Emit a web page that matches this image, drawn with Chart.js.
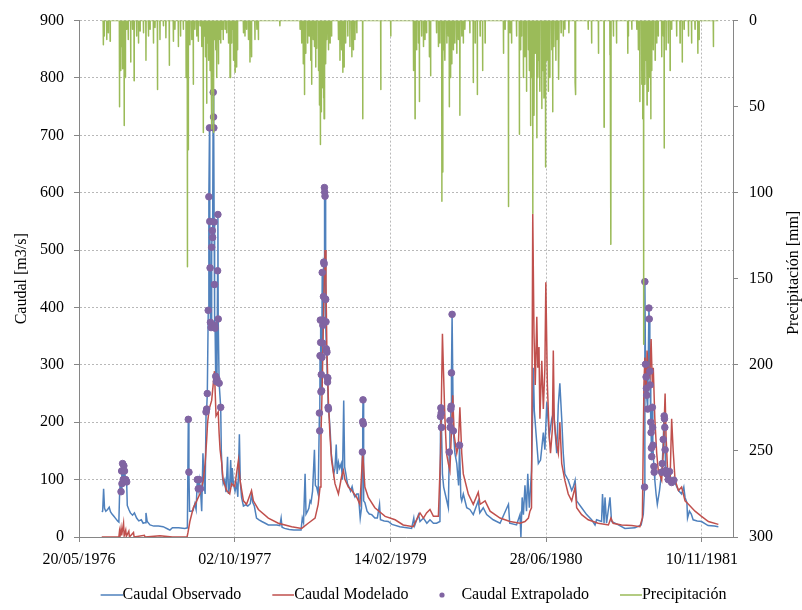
<!DOCTYPE html>
<html>
<head>
<meta charset="utf-8">
<script src="https://cdn.jsdelivr.net/npm/chart.js@4.4.1/dist/chart.umd.min.js"></script>
<style>
  html, body { margin: 0; padding: 0; background: #fff; }
</style>
</head>
<body>
<canvas id="grafico" width="802" height="610"></canvas>
<script>
// Eje X en días contados desde el 20/05/1976
const ticksDia = [0, 500, 1000, 1500, 2000];
const ticksFecha = ['20/05/1976', '02/10/1977', '14/02/1979', '28/06/1980', '10/11/1981'];

// Caudal observado [m3/s]
const obsDia = [73, 76, 79, 82, 86, 92, 97, 101, 106, 112, 118, 124, 128, 130, 132,
  155, 160, 165, 172, 178, 185, 192, 200, 206, 212, 215, 219, 228, 240, 255, 270, 285, 292, 300, 320, 340, 348,
  355, 360, 366, 372, 376, 394, 398, 402, 405,
  457, 460, 463, 468, 472, 477, 480, 484, 487, 490, 492, 496, 501, 506, 510, 515, 518, 522, 528, 535, 542, 550, 554, 558, 563,
  570, 578, 587, 598, 608, 620, 635, 645, 649, 652, 660, 675, 690, 705, 713, 717, 721, 726, 729, 734, 738, 742, 745, 750, 756, 759, 763, 768,
  804, 807, 810, 814, 818, 822, 826, 829, 833, 837, 842, 846, 850, 853, 857, 862, 867, 872, 877, 882, 886, 892, 897, 903, 907,
  915, 918, 925, 932, 940, 950, 958, 965, 968, 980, 993, 1005, 1030, 1068, 1075, 1078, 1090, 1095, 1106, 1117, 1127, 1138, 1148, 1159,
  1167, 1171, 1176, 1186, 1207, 1213, 1219, 1226, 1229, 1234, 1245, 1255, 1266, 1282, 1287, 1298, 1309, 1330, 1352, 1379, 1383, 1405,
  1416, 1419, 1423, 1427, 1432, 1437, 1441, 1446, 1453, 1456, 1459, 1462, 1469, 1475, 1482, 1491, 1496, 1502, 1510, 1518, 1524,
  1528, 1534, 1539, 1544, 1550, 1555, 1560, 1571, 1582, 1587, 1593, 1598, 1614, 1630, 1646, 1657, 1662, 1678, 1681, 1686, 1689, 1694,
  1705, 1710, 1732, 1753, 1785, 1805, 1812, 1849, 1853, 1857, 1864,
  1920, 1925, 1935, 1942, 1946, 1952, 1954, 1960, 1966, 1972, 1985, 1999, 2020, 2040, 2053];
const obsCaudal = [44, 45, 84, 50, 45, 48, 52, 44, 40, 36, 32, 28, 26, 69, 92,
  55, 48, 42, 38, 42, 33, 28, 30, 24, 25, 42, 27, 21, 19, 19, 18, 14, 12, 16, 16, 15, 16,
  45, 45, 46, 58, 48, 45, 146, 90, 75,
  150, 110, 93, 100, 78, 140, 75, 90, 134, 87, 120, 92, 80, 93, 70, 179, 95, 69, 54, 56, 54, 58, 75, 60, 54,
  33, 30, 27, 24, 21, 21, 21, 20, 33, 17, 15, 13, 12, 12, 12, 33, 25, 110, 40, 45, 50, 63, 60, 80, 152, 90, 87, 75,
  206, 180, 146, 128, 110, 120, 161, 110, 130, 120, 128, 100, 238, 122, 110, 93, 87, 80, 88, 75, 70, 75, 75, 33, 50,
  63, 60, 45, 40, 39, 33, 33, 57, 30, 28, 27, 22, 18, 15, 33, 20, 39, 27, 33, 24, 30, 24, 24, 27,
  110, 87, 75, 51, 146, 128, 90, 70, 63, 75, 51, 48, 39, 63, 42, 51, 39, 30, 24, 57, 24, 21,
  39, 0, 69, 39, 90, 45, 110, 51, 116, 200, 295, 220, 170, 128, 134, 182, 152, 235, 176, 206, 218,
  190, 146, 230, 268, 206, 146, 110, 99, 81, 87, 99, 63, 51, 39, 30, 21, 30, 27, 75, 24, 69, 24,
  69, 27, 21, 15, 16, 21, 40, 99, 75, 57, 81,
  87, 81, 75, 87, 69, 60, 33, 45, 40, 30, 28, 27, 20, 19, 18];

// Caudal extrapolado [m3/s]
const extDia = [135, 137, 138, 140, 142, 144, 146, 150, 153,
  351, 353, 380, 383, 386, 390,
  408, 410, 412, 415, 417, 419, 420, 421, 422, 424, 426, 428, 429, 431, 432, 433, 434, 435, 436, 437, 439, 441, 443, 445, 446, 447, 450, 455,
  772, 773, 774, 775, 776, 777, 778, 779, 780, 781, 782, 783, 784, 785, 786, 787, 788, 789, 790, 791, 792, 793, 794, 795, 796, 797, 798, 799, 800, 801,
  910, 911, 912, 913,
  1161, 1162, 1163, 1164, 1189, 1191, 1192, 1194, 1195, 1196, 1198, 1202, 1222,
  1816, 1817, 1819, 1821, 1822, 1823, 1826, 1830, 1831, 1833, 1834, 1836, 1837, 1838, 1839, 1841, 1842, 1843, 1846, 1847,
  1871, 1873, 1876, 1879, 1880, 1881, 1882, 1884, 1887, 1892, 1896, 1903, 1910];
const extCaudal = [79, 115, 93, 128, 100, 124, 115, 100, 96,
  205, 113, 100, 84, 100, 84,
  218, 223, 250, 395, 593, 713, 550, 469, 374, 365, 505, 534, 522, 775, 732, 713, 549, 440, 369, 364, 280, 271, 275, 464, 562, 380, 268, 226,
  216, 185, 316, 378, 339, 253, 283, 255, 313, 461, 338, 369, 378, 419, 479, 476, 609, 601, 594, 415, 414, 375, 328, 325, 322, 278, 270, 277, 226, 223,
  148, 201, 239, 197,
  210, 225, 216, 191, 148, 203, 191, 223, 228, 286, 388, 185, 160,
  87, 445, 301, 279, 259, 247, 223, 399, 380, 289, 265, 200, 182, 155, 140, 226, 191, 160, 123, 113,
  113, 128, 170, 211, 206, 191, 152, 116, 110, 100, 114, 95, 99];

// Caudal modelado [m3/s]
const modDia = [73, 128, 130, 132, 135, 137, 143, 145, 150, 152, 160, 162, 175, 177, 210, 212, 260, 300, 347,
  350, 356, 367, 378, 388, 394, 399, 405, 410, 413, 418, 426, 435, 440, 447, 450, 453, 458, 463, 474, 484,
  490, 500, 512, 517, 528, 538, 554, 560, 576, 608, 640, 683, 715, 736, 758, 768, 774, 777, 781, 785, 790, 793, 796, 801, 806, 811,
  822, 833, 843, 849, 854, 865, 876, 892, 902, 911, 918, 929, 950, 983, 1015,
  1041, 1073, 1095, 1106, 1116, 1127, 1138, 1154, 1161, 1167, 1170, 1175, 1180, 1186, 1191, 1197, 1200, 1205, 1213, 1218, 1223, 1229, 1234,
  1250, 1266, 1282, 1288, 1304, 1320, 1352, 1384, 1416, 1432, 1443, 1448, 1453, 1457, 1461, 1465, 1470, 1473, 1477, 1480, 1486, 1491, 1496,
  1499, 1504, 1510, 1514, 1520, 1523, 1526, 1530, 1534, 1539, 1544, 1550, 1560, 1571, 1582, 1593, 1598, 1614, 1635, 1667, 1700, 1708, 1715,
  1742, 1775, 1801, 1809, 1814, 1817, 1821, 1824, 1828, 1833, 1837, 1841, 1844, 1849, 1855, 1860, 1871, 1876, 1882, 1885, 1890, 1898, 1903,
  1908, 1914, 1925, 1935, 1946, 1957, 1978, 1999, 2021, 2053];
const modCaudal = [0, 0, 10, 2, 15, 3, 24, 2, 12, 1, 10, 0, 8, 0, 3, 0, 2, 0, 0,
  8, 27, 51, 63, 75, 87, 99, 128, 170, 200, 223, 238, 289, 211, 218, 180, 152, 130, 99, 81, 75,
  93, 88, 134, 99, 63, 57, 81, 63, 48, 33, 24, 18, 15, 24, 33, 57, 87, 176, 265, 384, 500, 444, 325, 235, 176, 134,
  93, 75, 105, 116, 100, 87, 81, 69, 57, 146, 87, 69, 51, 36, 30,
  21, 18, 42, 33, 42, 48, 36, 36, 146, 354, 295, 206, 146, 128, 116, 200, 247, 176, 146, 160, 226, 146, 110,
  75, 57, 78, 57, 63, 45, 33, 27, 24, 27, 33, 45, 51, 563, 354, 265, 384, 295, 331, 206, 307, 223, 295,
  444, 265, 176, 146, 188, 325, 206, 180, 160, 146, 200, 128, 99, 75, 63, 87, 51, 39, 30, 24, 21, 33, 24,
  21, 20, 18, 33, 265, 313, 250, 325, 289, 280, 345, 265, 295, 206, 146, 116, 99, 146, 250, 176, 116, 100, 206,
  150, 99, 81, 87, 63, 57, 45, 36, 27, 22];

// Precipitación diaria [mm]
const ppDia = [78, 81, 89, 94, 100, 130, 134, 137, 140, 145, 149, 153, 158, 166, 172, 177, 185, 191, 196, 207, 215, 223, 228, 239, 244,
  252, 260, 271, 279, 290, 303, 308, 319, 326, 335, 344, 348, 351, 356, 362, 367, 372, 378, 383, 389, 394, 399, 402, 406, 410, 413,
  416, 421, 424, 427, 429, 432, 435, 439, 442, 447, 450, 455, 459, 463, 469, 474, 480, 485, 487, 490, 493, 496, 501, 506, 509, 528,
  533, 538, 544, 549, 554, 565, 571, 576, 645, 710, 715, 720, 724, 728, 734, 739, 744, 747, 752, 756, 760, 763, 769, 772, 775, 778,
  781, 785, 787, 790, 793, 796, 801, 806, 811, 833, 838, 843, 847, 851, 856, 863, 870, 876, 881, 886, 892, 911, 969, 1001, 1074, 1079,
  1084, 1090, 1093, 1100, 1106, 1111, 1116, 1125, 1129, 1148, 1154, 1159, 1165, 1168, 1172, 1175, 1181, 1186, 1189, 1193, 1197, 1202,
  1207, 1213, 1218, 1223, 1229, 1234, 1239, 1255, 1266, 1272, 1279, 1288, 1296, 1304, 1363, 1368, 1379, 1384, 1389, 1405, 1414, 1418,
  1421, 1427, 1432, 1437, 1443, 1446, 1450, 1454, 1457, 1461, 1465, 1470, 1473, 1477, 1480, 1486, 1489, 1493, 1498, 1502, 1507, 1512,
  1518, 1521, 1525, 1531, 1534, 1539, 1541, 1548, 1555, 1560, 1573, 1593, 1595, 1635, 1646, 1668, 1686, 1705, 1708, 1716, 1726, 1762,
  1764, 1775, 1791, 1796, 1801, 1807, 1810, 1813, 1817, 1821, 1824, 1828, 1831, 1836, 1839, 1844, 1850, 1855, 1860, 1871, 1876, 1879,
  1885, 1892, 1898, 1903, 1919, 1930, 1937, 1943, 1957, 1967, 1978, 1987, 1991, 2037];
const ppMm = [14, 9, 11, 7, 12, 50, 29, 15, 28, 61, 33, 5, 11, 24, 5, 35, 9, 13, 6, 7, 23, 9, 5, 13, 4,
  40, 11, 3, 10, 26, 12, 5, 15, 9, 5, 33, 143, 75, 14, 11, 37, 5, 9, 12, 3, 15, 65, 9, 21, 48, 13,
  23, 29, 15, 63, 41, 65, 11, 17, 33, 25, 11, 13, 5, 11, 5, 7, 13, 33, 33, 13, 5, 23, 30, 27, 17, 7,
  9, 5, 11, 24, 21, 11, 5, 11, 3, 5, 13, 25, 43, 19, 13, 9, 23, 37, 11, 15, 27, 16, 29, 49, 72, 53,
  39, 45, 57, 25, 23, 11, 17, 13, 9, 11, 23, 17, 30, 27, 13, 9, 15, 21, 17, 11, 7, 57, 40, 9, 29, 57,
  17, 13, 47, 9, 15, 11, 7, 21, 32, 7, 15, 13, 105, 88, 17, 23, 13, 9, 50, 33, 25, 17,
  13, 19, 11, 55, 9, 13, 5, 7, 36, 13, 43, 9, 29, 13, 19, 5, 108, 7, 13, 9, 66, 17,
  9, 33, 21, 41, 17, 29, 61, 33, 112, 55, 19, 68, 33, 23, 41, 51, 29, 45, 85, 23, 41, 33,
  17, 53, 15, 23, 11, 33, 34, 7, 9, 5, 7, 36, 43, 5, 13, 19, 62, 20, 130, 9, 13, 19,
  9, 5, 5, 17, 47, 37, 57, 188, 37, 23, 49, 41, 33, 57, 29, 17, 23, 13, 9, 21, 9, 74,
  17, 13, 29, 5, 9, 13, 24, 5, 9, 13, 5, 19, 11, 15];

const AZUL = '#4F81BD', ROJO = '#C0504D', MORADO = '#8064A2', VERDE = '#9BBB59';
const FUENTE = '"Liberation Serif", "Times New Roman", serif';

// la línea observada pasa también por los valores extrapolados
const serieObs = obsDia.map((d, i) => ({x: d, y: obsCaudal[i]}))
  .concat(extDia.map((d, i) => ({x: d, y: extCaudal[i]})))
  .sort((a, b) => a.x - b.x);
const serieExt = extDia.map((d, i) => ({x: d, y: extCaudal[i]}));
const serieMod = modDia.map((d, i) => ({x: d, y: modCaudal[i]}));

// días sin lluvia en cero, cada evento como un pico aislado
const serieLluvia = [{x: 73, y: 0}];
ppDia.forEach((d, i) => {
  serieLluvia.push({x: d - 0.5, y: 0}, {x: d, y: ppMm[i]}, {x: d + 0.5, y: 0});
});
serieLluvia.push({x: 2053, y: 0});

// marcadores de la leyenda (línea corta o punto pegados al texto)
function marcaLinea(color) {
  const c = document.createElement('canvas');
  c.width = 55; c.height = 4;
  const g = c.getContext('2d');
  g.fillStyle = color;
  g.fillRect(33, 1.25, 22, 1.5);
  return c;
}
function marcaPunto(color) {
  const c = document.createElement('canvas');
  c.width = 24; c.height = 8;
  const g = c.getContext('2d');
  g.fillStyle = color;
  g.beginPath();
  g.arc(20, 4, 2.6, 0, Math.PI * 2);
  g.fill();
  return c;
}
const marcas = [marcaLinea(AZUL), marcaLinea(ROJO), marcaPunto(MORADO), marcaLinea(VERDE)];

// título del eje secundario, leído de abajo hacia arriba
const tituloDerecho = {
  id: 'tituloDerecho',
  afterDraw(chart) {
    const {ctx, chartArea} = chart;
    ctx.save();
    ctx.font = '16px ' + FUENTE;
    ctx.fillStyle = '#000';
    ctx.textAlign = 'center';
    ctx.textBaseline = 'middle';
    ctx.translate(chart.width - 8, (chartArea.top + chartArea.bottom) / 2 - 6);
    ctx.rotate(-Math.PI / 2);
    ctx.fillText('Precipitación [mm]', 0, 0);
    ctx.restore();
  }
};

Chart.defaults.font.family = FUENTE;
Chart.defaults.font.size = 16;
Chart.defaults.color = '#000';

new Chart(document.getElementById('grafico').getContext('2d'), {
  type: 'line',
  data: {
    datasets: [
      {label: 'Caudal Observado', data: serieObs, borderColor: AZUL, borderWidth: 1.5,
        pointRadius: 0, order: 4},
      {label: 'Caudal Modelado', data: serieMod, borderColor: ROJO, borderWidth: 1.5,
        pointRadius: 0, order: 3},
      {label: 'Caudal Extrapolado', data: serieExt, showLine: false, pointRadius: 3.3,
        pointBackgroundColor: MORADO, pointBorderColor: MORADO, borderColor: MORADO, order: 2},
      {label: 'Precipitación', data: serieLluvia, yAxisID: 'yP', borderColor: VERDE, borderWidth: 1.5,
        borderJoinStyle: 'round', pointRadius: 0, order: 1}
    ]
  },
  options: {
    responsive: false,
    animation: false,
    devicePixelRatio: 1,
    layout: {padding: {top: 16, left: 0, right: 0, bottom: 0}},
    plugins: {
      tooltip: {enabled: false},
      legend: {
        position: 'bottom',
        maxHeight: 29,
        labels: {
          usePointStyle: true,
          pointStyleWidth: 39,
          padding: 6,
          font: {size: 16},
          sort: (a, b) => a.datasetIndex - b.datasetIndex,
          generateLabels(chart) {
            return Chart.defaults.plugins.legend.labels.generateLabels(chart).map(item => {
              item.pointStyle = marcas[item.datasetIndex];
              return item;
            });
          }
        }
      }
    },
    scales: {
      x: {
        type: 'linear',
        min: 0,
        max: 2100,
        afterBuildTicks: s => { s.ticks = ticksDia.map(v => ({value: v})); },
        afterFit: s => { s.height = 44; },
        ticks: {
          autoSkip: false,
          maxRotation: 0,
          padding: 8,
          callback: v => ticksFecha[ticksDia.indexOf(v)] || ''
        },
        grid: {color: '#b8b8b8', tickColor: '#868686', tickLength: 5},
        border: {color: '#868686', dash: [2, 2]}
      },
      y: {
        position: 'left',
        min: 0,
        max: 900,
        afterFit: s => { s.width = 79; },
        ticks: {stepSize: 100, padding: 10},
        grid: {color: '#b8b8b8', tickColor: '#868686', tickLength: 5},
        border: {color: '#868686', dash: [2, 2]},
        title: {display: true, text: 'Caudal [m3/s]', padding: {top: 12, bottom: 0}}
      },
      yP: {
        position: 'right',
        reverse: true,
        min: 0,
        max: 300,
        afterFit: s => { s.width = 69; },
        ticks: {stepSize: 50, padding: 11},
        grid: {drawOnChartArea: false, tickColor: '#868686', tickLength: 5},
        border: {color: '#868686'}
      }
    }
  },
  plugins: [tituloDerecho]
});
</script>
</body>
</html>
